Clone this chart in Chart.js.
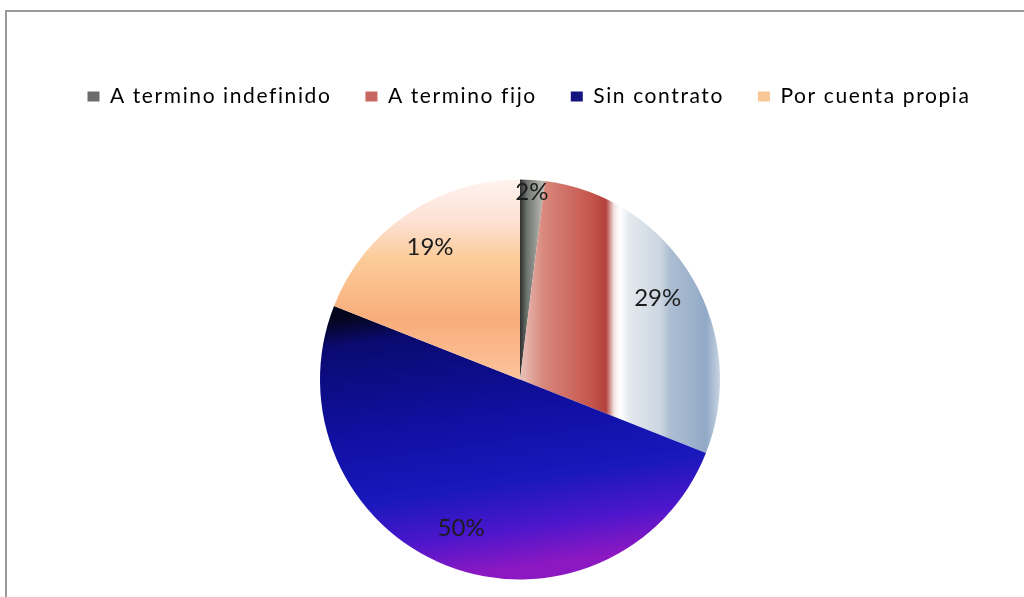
<!DOCTYPE html>
<html>
<head>
<meta charset="utf-8">
<script src="https://cdn.jsdelivr.net/npm/chart.js@4.4.0/dist/chart.umd.min.js"></script>
<style>
  html, body { margin: 0; padding: 0; background: #fff; overflow: hidden; }
  #frame { position: absolute; left: 5px; top: 10px; width: 1040px; height: 620px;
           border: 2px solid #9a9a9a; box-sizing: border-box; }
  #wrap  { position: absolute; left: 0; top: 0; width: 1024px; height: 664px; }
</style>
</head>
<body>
<div id="frame"></div>
<div id="wrap"><canvas id="pie"></canvas></div>
<script>
const labels       = ['A termino indefinido', 'A termino fijo', 'Sin contrato', 'Por cuenta propia'];
const values       = [2, 29, 50, 19];
const legendColors = ['#6b6b6b', '#c8675f', '#14147e', '#f7c794'];

const R = 200;
const FONT = 'Lato, "Open Sans", sans-serif';

// excel-style gradient fill per slice, laid out over the pie's box
function sliceFill(context) {
  const chart = context.chart;
  const area = chart.chartArea;
  const i = context.dataIndex;
  if (!area) return legendColors[i];
  const c = chart.ctx;
  const cx = (area.left + area.right) / 2;
  const cy = (area.top + area.bottom) / 2;
  let g;
  if (i === 0) {
    g = c.createLinearGradient(cx, 0, cx + 0.14 * R, 0);
    g.addColorStop(0, '#2e2e2e');
    g.addColorStop(0.25, '#6f756f');
    g.addColorStop(0.7, '#a9aaa3');
    g.addColorStop(1, '#cfc6be');
  } else if (i === 1) {
    g = c.createLinearGradient(cx, 0, cx + R, 0);
    g.addColorStop(0, '#e9c2b8');
    g.addColorStop(0.12, '#d8877c');
    g.addColorStop(0.35, '#c6574e');
    g.addColorStop(0.43, '#b3403c');
    g.addColorStop(0.47, '#f3e4e2');
    g.addColorStop(0.5, '#ffffff');
    g.addColorStop(0.55, '#e2e8ee');
    g.addColorStop(0.7, '#ccd6e0');
    g.addColorStop(0.75, '#adbed2');
    g.addColorStop(0.93, '#91a9c7');
    g.addColorStop(1, '#c9d4e2');
  } else if (i === 2) {
    g = c.createLinearGradient(cx - 0.6 * R, cy - 0.35 * R, cx - 0.4 * R, cy + R);
    g.addColorStop(0, '#05051e');
    g.addColorStop(0.1, '#0a0a70');
    g.addColorStop(0.45, '#1010a4');
    g.addColorStop(0.68, '#1818bc');
    g.addColorStop(0.85, '#4a16cc');
    g.addColorStop(1, '#8c18c2');
  } else {
    g = c.createLinearGradient(0, cy - R, 0, cy);
    g.addColorStop(0, '#fff3ee');
    g.addColorStop(0.2, '#fde2d6');
    g.addColorStop(0.4, '#fbcb98');
    g.addColorStop(0.7, '#f9ad7c');
    g.addColorStop(1, '#fbc49c');
  }
  return g;
}

// looser letter spacing, closer to the reference legend text
const spacing = {
  id: 'spacing',
  beforeLayout(chart) { chart.ctx.letterSpacing = '1.6px'; },
  beforeDraw(chart)   { chart.ctx.letterSpacing = '1.6px'; },
  // legend sits a little right of the pie in the original
  afterLayout(chart) {
    chart.legend.left += 9;
    chart.legend.right += 9;
  },
};

const pctLabels = {
  id: 'pctLabels',
  afterDatasetsDraw(chart) {
    const ctx = chart.ctx;
    const meta = chart.getDatasetMeta(0);
    ctx.save();
    ctx.letterSpacing = '0px';
    ctx.font = '24px ' + FONT;
    ctx.fillStyle = '#1c1c1c';
    ctx.textAlign = 'center';
    ctx.textBaseline = 'middle';
    meta.data.forEach((arc, i) => {
      const mid = (arc.startAngle + arc.endAngle) / 2;
      const r = arc.outerRadius * (values[i] < 5 ? 0.94 : 0.8);
      ctx.fillText(values[i] + '%', arc.x + Math.cos(mid) * r, arc.y + Math.sin(mid) * r);
    });
    ctx.restore();
  }
};

new Chart(document.getElementById('pie'), {
  type: 'pie',
  data: {
    labels: labels,
    datasets: [{ data: values, backgroundColor: sliceFill, borderWidth: 0 }],
  },
  options: {
    responsive: true,
    maintainAspectRatio: false,
    animation: false,
    radius: R,
    layout: { padding: { top: 52, left: 16, right: 0, bottom: 22 } },
    plugins: {
      tooltip: { enabled: false },
      legend: {
        position: 'top',
        labels: {
          boxWidth: 12,
          boxHeight: 10,
          padding: 34,
          color: '#1a1a1a',
          font: { family: FONT, size: 21 },
          generateLabels: chart => labels.map((t, i) => ({
            text: t, fillStyle: legendColors[i], strokeStyle: legendColors[i],
            lineWidth: 0, index: i, hidden: false,
          })),
        },
      },
    },
  },
  plugins: [spacing, pctLabels],
});
</script>
</body>
</html>
